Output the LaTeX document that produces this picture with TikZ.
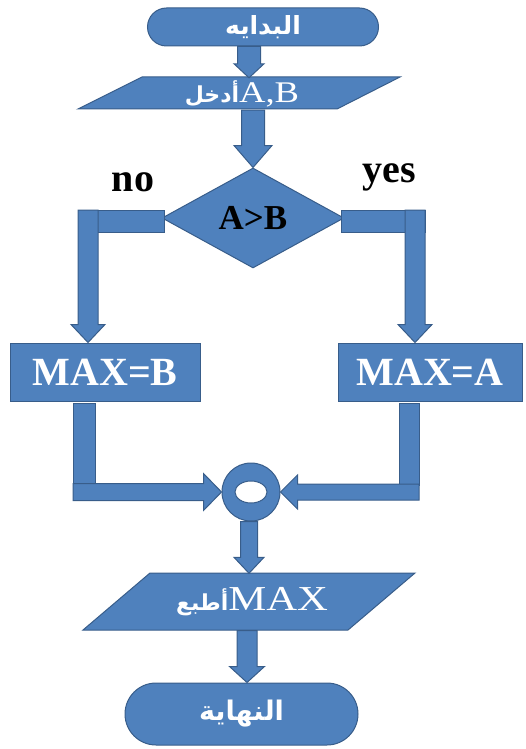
\documentclass[tikz,border=0pt]{standalone}
\usepackage{fontspec}
\setmainfont{Liberation Serif}
\newfontfamily\arabicfont[Script=Arabic]{DejaVu Sans}
\newfontfamily\widefont[FakeStretch=1.22]{Liberation Serif}
\TeXXeTstate=1
\usetikzlibrary{calc,shapes.geometric,shapes.misc}
\definecolor{boxfill}{HTML}{4F81BD}
\definecolor{boxline}{HTML}{385D8A}

% Block arrow from #1 (tail) to #2 (tip): half shaft width #3, half head width #4, head length #5
\newcommand\blockarrow[5]{%
  \coordinate (ba-base) at ($(#2)!#5!(#1)$);
  \draw[flow] ($(#1)!#3!90:(#2)$) -- ($(ba-base)!#3!-90:(#1)$)
    -- ($(ba-base)!#4!-90:(#1)$) -- (#2) -- ($(ba-base)!#4!90:(#1)$)
    -- ($(ba-base)!#3!90:(#1)$) -- ($(#1)!#3!-90:(#2)$) -- cycle;}

\tikzset{
  flow/.style={fill=boxfill, draw=boxline, line width=1pt, line join=miter},
  term/.style={flow, rounded rectangle, inner sep=0pt, text=white},
  lbl/.style={inner sep=0pt, text=white},
  procbox/.style={flow, rectangle, inner sep=0pt, text=white,
    font=\fontsize{40}{40}\selectfont\bfseries},
  side/.style={inner sep=0pt, text=black, font=\fontsize{40}{40}\selectfont\bfseries},
}

\begin{document}
\begin{tikzpicture}[x=1pt, y=-1pt]
\useasboundingbox (0,0) rectangle (525,749);

% start terminal
\node[term, minimum width=231pt, minimum height=38pt] (start) at (263,27)
  {\arabicfont\bfseries\fontsize{25}{25}\selectfont\beginR البدايه\endR};

% input
\draw[flow] (142,77) -- (400,77) -- (337,109) -- (78,109) -- cycle;
\node[lbl, minimum height=32pt] (in) at (242,94)
  {{\arabicfont\bfseries\fontsize{22}{22}\selectfont\beginR أدخل\endR}{\widefont\fontsize{30}{30}\selectfont A,B}};

% decision
\node[flow, diamond, aspect=1.82, inner sep=0pt, minimum width=182pt, minimum height=100pt,
  font=\fontsize{35}{35}\selectfont\bfseries] (dec) at (253,218) {A>B};
\node[side, anchor=base] (no) at (133,191) {no};
\node[side, anchor=base] (yes) at (389,182) {yes};

% assignments
\node[procbox, minimum width=190pt, minimum height=58pt] (boxB) at (105,372) {MAX=B};
\node[procbox, minimum width=184pt, minimum height=58pt] (boxA) at (430,372) {MAX=A};

% join
\node[flow, circle, minimum size=58pt, inner sep=0pt] (join) at (251,492) {};
\draw[fill=white, draw=boxline, line width=1pt] (join.center) ellipse [x radius=16, y radius=11];

% output
\draw[flow] (150,573) -- (415,573) -- (348,630) -- (83,630) -- cycle;
\node[lbl, minimum height=57pt] (pr) at (252,602)
  {{\arabicfont\bfseries\fontsize{22}{22}\selectfont\beginR أطبع\endR}{\widefont\fontsize{35}{35}\selectfont MAX}};

% end terminal
\node[term, minimum width=233pt, minimum height=62pt] (end) at (241.5,714)
  {\arabicfont\bfseries\fontsize{27}{27}\selectfont\beginR النهاية\endR};

% columns of the flow lines
\coordinate (c1) at (249,0);
\coordinate (lcol) at (88,0);
\coordinate (rcol) at (415,0);
\coordinate (lb) at (84,0);
\coordinate (rb) at (409,0);
\coordinate (c2) at (249,0);
\coordinate (c3) at (247,0);

% start -> input
\coordinate (t1) at (c1 |- start.south);
\coordinate (h1) at (c1 |- in.north);
\blockarrow{t1}{h1}{11.5pt}{15pt}{14pt}

% input -> decision
\coordinate (t2) at (dec.north |- in.south);
\blockarrow{t2}{dec.north}{11.5pt}{19pt}{22pt}

% decision -> MAX=B
\draw[flow] ($(lcol |- dec.west)+(-10,-8)$) rectangle ($(dec.west)+(3,14)$);
\coordinate (t3) at ($(lcol |- dec.west)+(0,-8)$);
\coordinate (h3) at (lcol |- boxB.north);
\blockarrow{t3}{h3}{10pt}{17pt}{18pt}

% decision -> MAX=A
\draw[flow] ($(dec.east)+(-3,-8)$) rectangle ($(rcol |- dec.east)+(10,14)$);
\coordinate (t4) at ($(rcol |- dec.east)+(0,-8)$);
\coordinate (h4) at (rcol |- boxA.north);
\blockarrow{t4}{h4}{10pt}{17pt}{18pt}

% MAX=B -> join
\draw[flow] ($(lb |- boxB.south)+(-11,2)$) rectangle ($(lb |- join)+(11,-6)$);
\coordinate (t5) at ($(lb |- join)+(-11,0)$);
\blockarrow{t5}{join.west}{8.5pt}{18.5pt}{18pt}

% MAX=A -> join
\draw[flow] ($(rb |- boxA.south)+(-10,2)$) rectangle ($(rb |- join)+(10,-7)$);
\coordinate (t6) at ($(rb |- join)+(10,0)$);
\blockarrow{t6}{join.east}{8pt}{17pt}{17pt}

% join -> output
\coordinate (t7) at (c2 |- join.south);
\coordinate (h7) at (c2 |- pr.north);
\blockarrow{t7}{h7}{8.5pt}{15pt}{16pt}

% output -> end
\coordinate (t8) at (c3 |- pr.south);
\coordinate (h8) at (c3 |- end.north);
\blockarrow{t8}{h8}{10pt}{17.5pt}{16pt}
\end{tikzpicture}
\end{document}
